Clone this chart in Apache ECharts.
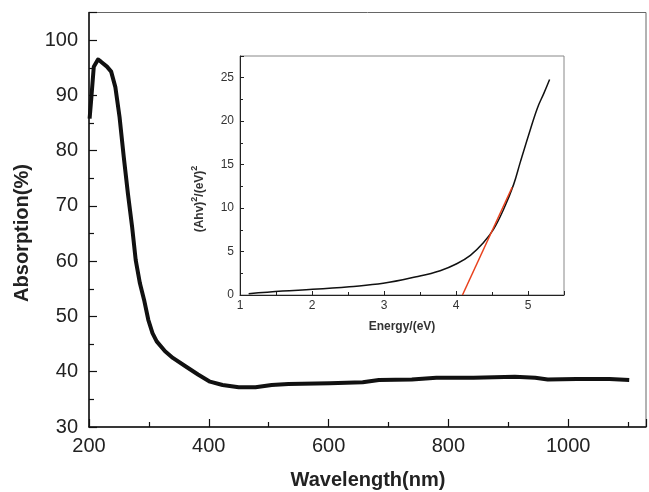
<!DOCTYPE html>
<html>
<head>
<meta charset="utf-8">
<script src="https://cdn.jsdelivr.net/npm/echarts@6/dist/echarts.min.js"></script>
<style>html,body{margin:0;padding:0;background:#fff}#c{width:649px;height:492px}</style>
</head>
<body>
<div id="c"></div>
<script>
// Main spectrum
const wavelength = [201,204,208,215,220,230,237,244,251,258,265,272,278,285,292,299,306,313,327,340,361,382,402,423,450,478,505,533,602,657,684,739,780,842,911,945,966,1014,1069,1102];
const absorption = [85.8,89.7,95.2,96.5,96.1,95.2,94.3,91.5,86.1,78.9,72.2,66.2,60.2,56.0,53.0,49.4,47.0,45.5,43.7,42.5,41.0,39.5,38.2,37.6,37.2,37.2,37.6,37.8,37.9,38.1,38.5,38.6,38.9,38.9,39.1,38.9,38.6,38.7,38.7,38.5];
// Inset Tauc plot
const energy = [1.12,1.59,2.01,2.52,2.99,3.45,3.78,4.01,4.2,4.38,4.52,4.66,4.80,4.89,5.01,5.13,5.22,5.30];
const tauc = [0.15,0.46,0.65,0.96,1.34,2.1,2.8,3.6,4.56,6.0,7.54,9.84,12.7,15.2,18.45,21.5,23.2,24.8];
// Linear fit (extrapolation)
const fitEnergy = [4.09,4.78];
const fitValue = [0,12.4];

const zip = (a,b)=>a.map((v,i)=>[v,b[i]]);
const chart = echarts.init(document.getElementById('c'));
const FONT = 'Liberation Sans, Arial, sans-serif';
chart.setOption({
  animation:false,
  backgroundColor:'#fff',
  grid:[
    {left:89,top:12.5,width:559,height:414.5,show:true,borderColor:'#666',borderWidth:1,containLabel:false},
    {left:240,top:56,width:324,height:239,show:true,borderColor:'#888',borderWidth:1,containLabel:false,backgroundColor:'#fff'}
  ],
  xAxis:[
    {gridIndex:0,type:'value',min:200,max:1130,interval:200,
     axisLine:{lineStyle:{color:'#111',width:1.5}},
     axisTick:{inside:true,length:8,lineStyle:{color:'#111',width:1.2}},
     minorTick:{show:true,splitNumber:2,length:5,lineStyle:{color:'#111',width:1.2}},
     splitLine:{show:false},
     axisLabel:{fontFamily:FONT,fontSize:20,color:'#222',margin:9,
       formatter:v=>(v%200===0&&v<=1000)?String(v):''}},
    {gridIndex:1,type:'value',min:1,max:5.5,interval:1,
     axisLine:{lineStyle:{color:'#222',width:1}},
     axisTick:{inside:true,length:4,lineStyle:{color:'#222'}},
     minorTick:{show:true,splitNumber:2,length:3,lineStyle:{color:'#222'}},
     splitLine:{show:false},
     axisLabel:{fontFamily:FONT,fontSize:12,color:'#333',margin:5,
       formatter:v=>Number.isInteger(v)?String(v):''}}
  ],
  yAxis:[
    {gridIndex:0,type:'value',min:30,max:105,interval:10,
     axisLine:{lineStyle:{color:'#111',width:1.5}},
     axisTick:{inside:true,length:8,lineStyle:{color:'#111',width:1.2}},
     minorTick:{show:true,splitNumber:2,length:5,lineStyle:{color:'#111',width:1.2}},
     splitLine:{show:false},
     axisLabel:{fontFamily:FONT,fontSize:20,color:'#222',margin:11,
       formatter:v=>(v%10===0&&v<=100)?String(v):''}},
    {gridIndex:1,type:'value',min:0,max:27.5,interval:5,
     axisLine:{lineStyle:{color:'#222',width:1}},
     axisTick:{inside:true,length:4,lineStyle:{color:'#222'}},
     minorTick:{show:true,splitNumber:2,length:3,lineStyle:{color:'#222'}},
     splitLine:{show:false},
     axisLabel:{fontFamily:FONT,fontSize:12,color:'#333',margin:6,
       formatter:v=>(v%5===0&&v<=25)?String(v):''}}
  ],
  series:[
    {type:'line',xAxisIndex:0,yAxisIndex:0,data:zip(wavelength,absorption),showSymbol:false,smooth:false,
     lineStyle:{color:'#111',width:4,join:'round'},z:2},
    {type:'line',xAxisIndex:1,yAxisIndex:1,data:zip(energy,tauc),showSymbol:false,smooth:0.4,
     lineStyle:{color:'#111',width:1.5},z:5},
    {type:'line',xAxisIndex:1,yAxisIndex:1,data:zip(fitEnergy,fitValue),showSymbol:false,
     lineStyle:{color:'#e8401c',width:1.5},z:6}
  ],
  graphic:[
    {type:'text',x:22,y:233,rotation:Math.PI/2,z:10,
     style:{text:'Absorption(%)',font:'bold 20px '+FONT,fill:'#222',textAlign:'center',textVerticalAlign:'middle'}},
    {type:'text',x:368,y:480,z:10,
     style:{text:'Wavelength(nm)',font:'bold 20px '+FONT,fill:'#222',textAlign:'center',textVerticalAlign:'middle'}},
    {type:'text',x:402,y:327,z:10,
     style:{text:'Energy/(eV)',font:'bold 12px '+FONT,fill:'#333',textAlign:'center',textVerticalAlign:'middle'}},
    {type:'text',x:200,y:199,rotation:Math.PI/2,z:10,
     style:{text:'(Ahv){s|2}/(eV){s|2}',font:'bold 12px '+FONT,fill:'#333',textAlign:'center',textVerticalAlign:'middle',
       rich:{s:{fontSize:9,fontWeight:'bold',fontFamily:FONT,fill:'#333',verticalAlign:'top',lineHeight:20,padding:[0,0,8,0]}}}}
  ]
});
</script>
</body>
</html>
